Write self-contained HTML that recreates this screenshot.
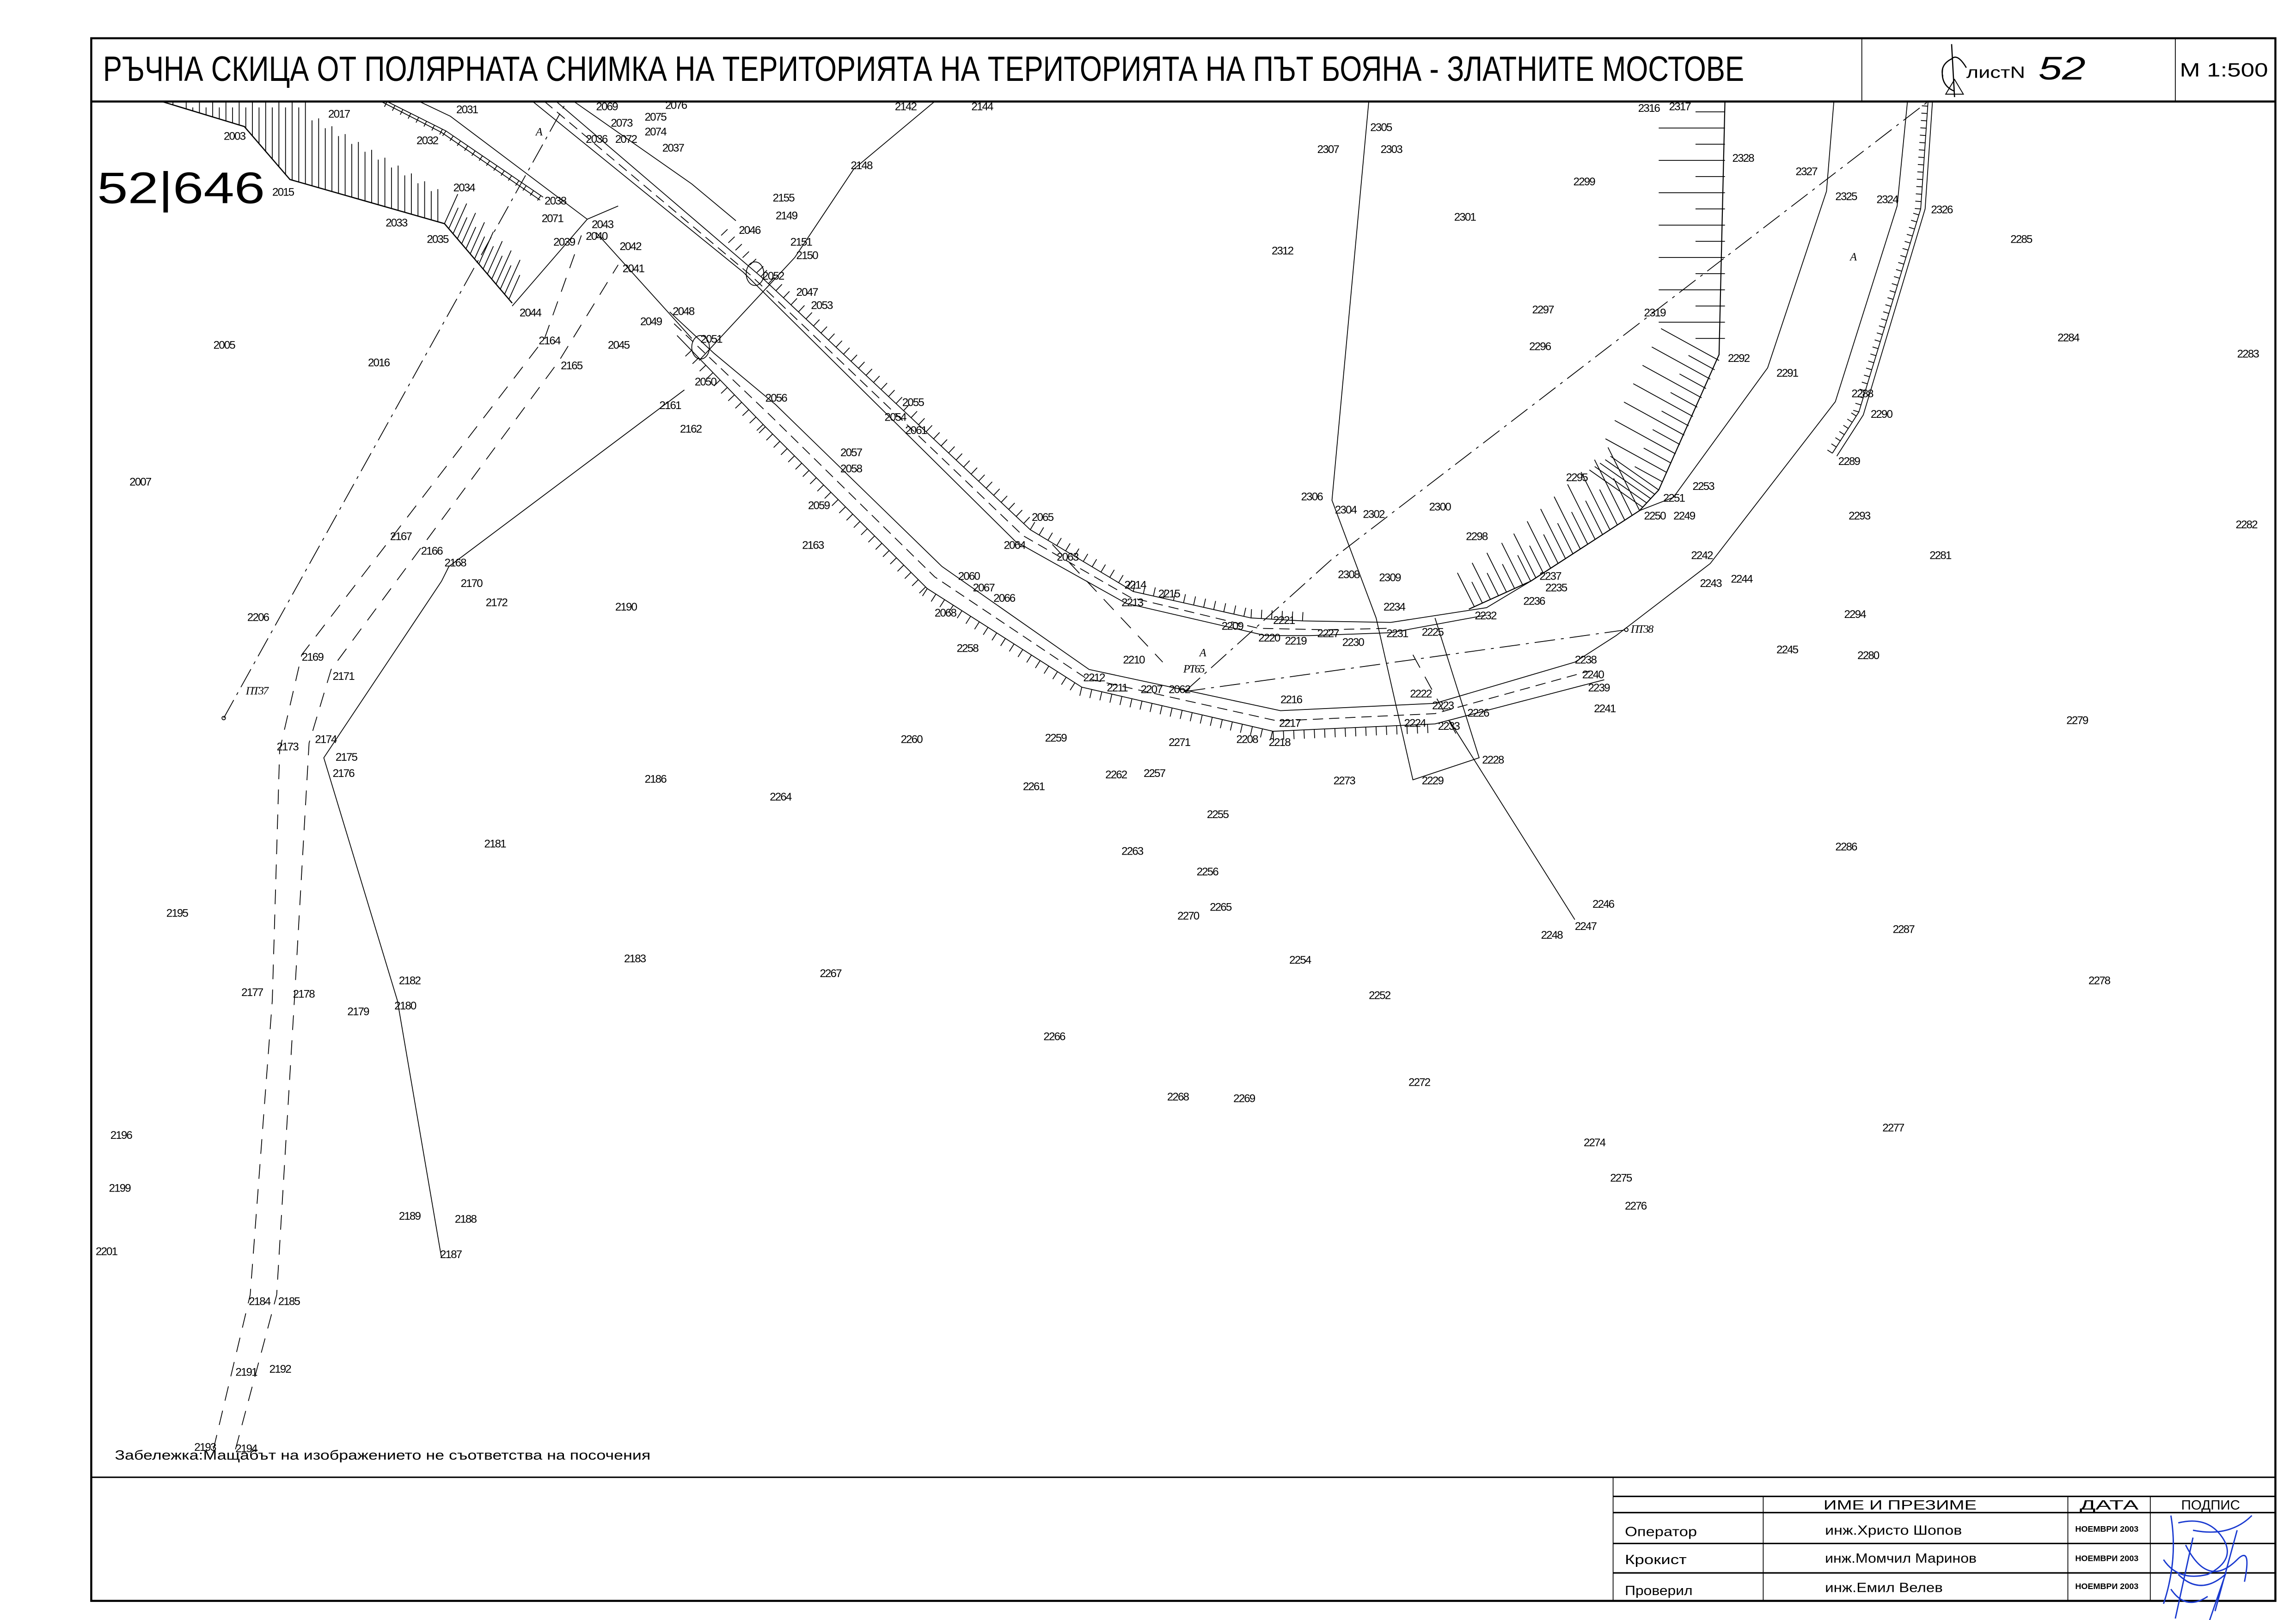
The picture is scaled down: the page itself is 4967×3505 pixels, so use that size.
<!DOCTYPE html>
<html><head><meta charset="utf-8"><style>
html,body{margin:0;padding:0;background:#fff;}
svg{display:block;}
text{font-family:"Liberation Sans",sans-serif;fill:#000;}
.l{font-size:7.6px;letter-spacing:-0.6px;}
</style></head><body>
<svg id="s" xmlns="http://www.w3.org/2000/svg" width="4967" height="3505" viewBox="0 0 1560 1101" preserveAspectRatio="none">
<rect width="1560" height="1101" fill="#fff"/>
<g fill="none" stroke="#000" stroke-width="0.55" id="g">
<rect x="62" y="26" width="1484" height="1062" stroke-width="1.4"/>
<line x1="62" y1="69" x2="1546" y2="69" stroke-width="1.4"/>
<line x1="1265" y1="26" x2="1265" y2="69"/>
<line x1="1478" y1="26" x2="1478" y2="69"/>
<line x1="62" y1="1004" x2="1546" y2="1004" stroke-width="1"/>
<line x1="1096" y1="1004" x2="1096" y2="1088"/>
<line x1="1096" y1="1017" x2="1546" y2="1017" stroke-width="1"/>
<line x1="1096" y1="1028" x2="1546" y2="1028" stroke-width="1"/>
<line x1="1096" y1="1049" x2="1546" y2="1049" stroke-width="1"/>
<line x1="1096" y1="1069" x2="1546" y2="1069" stroke-width="1"/>
<line x1="1198" y1="1017" x2="1198" y2="1088"/>
<line x1="1405" y1="1017" x2="1405" y2="1088"/>
<line x1="1461" y1="1017" x2="1461" y2="1088"/>
<path d="M1326 30 L1328 66 M1320 46 Q1318 58 1328 62 M1336 46 Q1330 36 1326 40 Q1318 44 1320 52" stroke-width="0.8"/>
<path d="M1322 64 L1328 54 L1334 64 Z" stroke-width="0.6"/>

<!-- road 1 -->
<polyline points="378,69 517,188 700,360 770,402 850,420 885,422 945,423 1010,413 1040,395 1114,347 1127,333"/>
<polyline points="362,69 505,185 690,368 765,410 860,432 890,432 945,430 1010,418"/>
<polyline points="370,69 510,187 695,364 768,406 855,427 900,428 945,427" stroke-dasharray="7,4"/>
<polyline points="390,69 470,125 500,150"/>
<!-- road 2 -->
<polyline points="455,212 485,240 527,275 640,385 740,455 870,483 975,478 1070,450 1098,432 1162,383 1247,273 1289,140 1296,69"/>
<polyline points="460,228 520,290 630,400 735,467 865,497 975,492 1090,462"/>
<polyline points="458,220 523,282 635,392 738,461 868,490 975,485 1080,456" stroke-dasharray="7,4"/>
<polyline points="405,158 470,230"/>
<!-- right lines -->
<polyline points="998,414 1040,395 1114,347 1127,333 1168,241 1172,69" stroke-width="0.7"/>
<polyline points="1114,347 1137,338 1201,250 1241,130 1246,69"/>
<polyline points="1245,308 1263,280 1305,142 1310,69"/>
<polyline points="1248,310 1266,282 1308,142 1313,69"/>
<!-- misc lines -->
<polyline points="465,265 305,385 300,395 220,515 270,680 300,855"/>
<polyline points="475,245 540,175 580,115 635,69"/>
<polyline points="930,69 905,340 935,420 960,530 1005,515 975,420"/>
<polyline points="985,490 1070,625"/>
<!-- left band -->
<polyline points="110,69 166,86 197,122 302,152 348,206" stroke-width="0.8"/>
<polyline points="259,69 300,90 367,136"/>
<polyline points="263,69 303,89 369,134"/>
<polyline points="285,69 306,79 399,149 348,208"/>
<polyline points="399,149 420,140"/>
<g stroke-dasharray="10,7">
<polyline points="145,985 170,880 185,680 190,510 205,445 370,230 395,160"/>
<polyline points="160,985 188,880 200,680 210,505 225,455 380,245 420,180"/>
<polyline points="715,370 790,450"/>
<polyline points="960,445 990,500"/>
</g>
<g stroke-dasharray="14,4,2,4">
<polyline points="152,488 385,69"/>
<polyline points="805,470 905,380 1120,215 1310,69"/>
<polyline points="805,470 1105,428"/>
</g>
<circle cx="152" cy="488" r="1.2"/>
<circle cx="1105" cy="428" r="1.2"/>
<ellipse cx="513" cy="186" rx="6" ry="8"/>
<ellipse cx="476" cy="236" rx="6" ry="8"/>
</g>
<g id="lab"></g>
<text x="70" y="55" font-size="24" textLength="1115" lengthAdjust="spacingAndGlyphs">РЪЧНА СКИЦА ОТ ПОЛЯРНАТА СНИМКА НА ТЕРИТОРИЯТА НА ТЕРИТОРИЯТА НА ПЪТ БОЯНА - ЗЛАТНИТЕ МОСТОВЕ</text>
<text x="1336" y="53" font-size="11" textLength="40" lengthAdjust="spacingAndGlyphs">листN</text>
<text x="1385" y="54" font-size="22" font-style="italic" textLength="32" lengthAdjust="spacingAndGlyphs">52</text>
<text x="1481" y="52" font-size="13" textLength="60" lengthAdjust="spacingAndGlyphs">M 1:500</text>
<text x="66" y="138" font-size="30" font-weight="normal" textLength="114" lengthAdjust="spacingAndGlyphs" fill="#333">52|646</text>
<text x="78" y="992" font-size="9" textLength="364" lengthAdjust="spacingAndGlyphs">Забележка:Мащабът на изображението не съответства на посочения</text>
<text x="1239" y="1026" font-size="9" textLength="104" lengthAdjust="spacingAndGlyphs">ИМЕ И ПРЕЗИМЕ</text>
<text x="1413" y="1026" font-size="9" textLength="40" lengthAdjust="spacingAndGlyphs">ДАТА</text>
<text x="1482" y="1026" font-size="9" textLength="40" lengthAdjust="spacingAndGlyphs">ПОДПИС</text>
<text x="1104" y="1044" font-size="9" textLength="49" lengthAdjust="spacingAndGlyphs">Оператор</text>
<text x="1104" y="1063" font-size="9" textLength="42" lengthAdjust="spacingAndGlyphs">Крокист</text>
<text x="1104" y="1084" font-size="9" textLength="46" lengthAdjust="spacingAndGlyphs">Проверил</text>
<text x="1240" y="1043" font-size="9" textLength="93" lengthAdjust="spacingAndGlyphs">инж.Христо Шопов</text>
<text x="1240" y="1062" font-size="9" textLength="103" lengthAdjust="spacingAndGlyphs">инж.Момчил Маринов</text>
<text x="1240" y="1082" font-size="9" textLength="80" lengthAdjust="spacingAndGlyphs">инж.Емил Велев</text>
<text x="1410" y="1041" font-size="5.5" font-weight="bold" textLength="43" lengthAdjust="spacingAndGlyphs">НОЕМВРИ 2003</text>
<text x="1410" y="1061" font-size="5.5" font-weight="bold" textLength="43" lengthAdjust="spacingAndGlyphs">НОЕМВРИ 2003</text>
<text x="1410" y="1080" font-size="5.5" font-weight="bold" textLength="43" lengthAdjust="spacingAndGlyphs">НОЕМВРИ 2003</text>
<g fill="none" stroke="#1a3ad0" stroke-width="0.9">
<path d="M1475 1030 Q1480 1060 1470 1090 M1480 1035 Q1500 1030 1510 1045 Q1520 1060 1500 1070 Q1480 1075 1470 1060 M1530 1030 Q1515 1045 1490 1040 M1485 1050 Q1500 1080 1520 1060 Q1530 1050 1525 1075 M1480 1070 Q1495 1085 1512 1070 L1500 1105 M1475 1080 Q1485 1095 1500 1085 M1490 1045 L1478 1100 M1520 1040 L1505 1095"/>
</g>
</svg>
<script>
var NS="http://www.w3.org/2000/svg",g=document.getElementById("g"),lab=document.getElementById("lab");
function ln(a,b,c,d){var e=document.createElementNS(NS,"line");e.setAttribute("x1",a);e.setAttribute("y1",b);e.setAttribute("x2",c);e.setAttribute("y2",d);g.appendChild(e);}
function ticks(p,step,L0,L1,side,fix,alt){var tot=0,seg=[];for(var i=0;i<p.length-1;i++){var d=Math.hypot(p[i+1][0]-p[i][0],p[i+1][1]-p[i][1]);seg.push(d);tot+=d;}
var s=0,k=0;for(var i=0;i<p.length-1;i++){var dx=(p[i+1][0]-p[i][0])/seg[i],dy=(p[i+1][1]-p[i][1])/seg[i];for(var t=0;t<seg[i];t+=step){var x=p[i][0]+dx*t,y=p[i][1]+dy*t,f=(s+t)/tot,L=L0+(L1-L0)*f;if(alt&&(k%2))L*=alt;k++;var nx,ny;if(fix){var m=Math.hypot(fix[0],fix[1]);nx=fix[0]/m;ny=fix[1]/m;}else{nx=dy*side;ny=-dx*side;}ln(x,y,x+nx*L,y+ny*L);}s+=seg[i];}}
// road ticks attached to edges
ticks([[490,160],[517,188],[700,360],[770,402],[850,420],[885,422]],7,6,6,1);
ticks([[470,238],[520,290],[630,400],[735,467],[865,497],[975,492]],7,6,6,-1);
// right bank horizontal
for(var y=76;y<240;y+=11){var L=(Math.round((y-76)/11)%2)?45:20;ln(1172,y,1172-L,y);}
ticks([[1168,245],[1127,333]],7,45,48,null,[-1,-0.55],0.45);
ticks([[1114,347],[1040,395],[998,414]],6,48,25,null,[-0.5,-1],0.6);
ticks([[1127,333],[1114,347]],4,40,45,null,[-1,-0.7]);
// left band vertical hatches
for(var x=113;x<302;x+=4.5){var py;if(x<166)py=69+(x-110)*17/56;else if(x<197)py=86+(x-166)*36/31;else py=122+(x-197)*30/105;var ty=x<209?69:76+(x-209)*57/96;if(py-ty>2)ln(x,py,x,ty+((Math.round(x/4.5)%2)?4:0));}
ticks([[302,152],[348,206]],4.5,22,26,null,[0.45,-1],0.7);
ticks([[263,69],[303,89],[369,134]],6,4,4,-1);
// right hatched line ticks
ticks([[1245,308],[1263,280],[1305,142],[1310,69]],5,4,4,1);
var L="2017 223 80|2003 152 95|2031 310 77|2032 283 98|2015 185 133|2034 308 130|2033 262 154|2035 290 165|2038 370 139|2071 368 151|2043 402 155|2039 376 167|2040 398 163|2042 421 170|2041 423 185|2044 353 215|2069 405 75|2073 415 86|2075 438 82|2074 438 92|2076 452 74|2036 398 97|2072 418 97|2037 450 103|2142 608 75|2144 660 75|2148 578 115|2155 525 137|2149 527 149|2046 502 159|2151 537 167|2150 541 176|2052 518 190|2047 541 201|2053 551 210|2048 457 214|2049 435 221|2051 476 233|2050 472 262|2045 413 237|2164 366 234|2165 381 251|2005 145 237|2016 250 249|2161 448 278|2162 462 294|2056 520 273|2055 613 276|2054 601 286|2061 615 295|2057 571 310|2058 571 321|2059 549 346|2007 88 330|2163 545 373|2065 701 354|2064 682 373|2063 718 381|2167 265 367|2166 286 377|2168 302 385|2170 313 399|2172 330 412|2190 418 415|2060 651 394|2067 661 402|2066 675 409|2068 635 419|2214 764 400|2215 787 406|2213 762 412|2209 830 428|2221 865 424|2220 855 436|2219 873 438|2227 895 433|2230 912 439|2231 942 433|2225 966 432|2234 940 415|2232 1002 421|2236 1035 411|2235 1050 402|2237 1046 394|2298 996 367|2295 1064 327|2251 1130 341|2250 1117 353|2249 1137 353|2253 1150 333|2242 1149 380|2243 1155 399|2244 1176 396|2300 971 347|2306 884 340|2304 907 349|2302 926 352|2308 909 393|2309 937 395|2258 650 443|2206 168 422|2169 205 449|2171 226 462|ПТ37 167 472|2210 763 451|2212 736 463|2211 752 470|2207 775 471|2062 794 471|A 815 446|РТ65 804 457|2216 870 478|2217 869 494|2208 840 505|2218 862 507|2222 958 474|2223 973 482|2226 997 487|2224 954 494|2233 977 496|2238 1070 451|2240 1075 461|2239 1079 470|2241 1083 484|ПТ38 1108 430|2245 1207 444|2280 1262 448|2294 1253 420|2293 1256 353|2281 1311 380|2173 188 510|2174 214 505|2175 228 517|2176 226 528|2260 612 505|2259 710 504|2271 794 507|2228 1007 519|2229 966 533|2273 906 533|2186 438 532|2262 751 529|2257 777 528|2261 695 537|2264 523 544|2255 820 556|2263 762 581|2181 329 576|2256 813 595|2265 822 619|2270 800 625|2195 113 623|2246 1082 617|2247 1070 632|2248 1047 638|2254 876 655|2183 424 654|2267 557 664|2182 271 669|2177 164 677|2178 199 678|2252 930 679|2180 268 686|2179 236 690|2266 709 707|2272 957 738|2268 793 748|2269 838 749|2196 75 774|2274 1076 779|2199 74 810|2275 1094 803|2276 1104 822|2189 271 829|2188 309 831|2201 65 853|2187 299 855|2184 169 887|2185 189 887|2191 160 935|2192 183 933|2193 132 986|2194 160 987|2305 931 89|2307 895 104|2303 938 104|2316 1113 76|2317 1134 75|2328 1177 110|2299 1069 126|2301 988 150|2327 1220 119|2325 1247 136|2324 1275 138|2326 1312 145|2285 1366 165|2312 864 173|A 1257 177|A 364 92|2297 1041 213|2319 1117 215|2296 1039 238|2292 1174 246|2291 1207 256|2288 1258 270|2290 1271 284|2289 1249 316|2284 1398 232|2283 1520 243|2282 1519 359|2279 1404 492|2286 1247 578|2287 1286 634|2278 1419 669|2277 1279 769";
L.split("|").forEach(function(r){var a=r.split(" ");var t=document.createElementNS(NS,"text");t.setAttribute("x",a[1]);t.setAttribute("y",a[2]);t.setAttribute("class","l");if(a[0][0]=="A"||a[0][0]=="П"||a[0][0]=="Р"){t.setAttribute("font-style","italic");t.style.fontFamily="Liberation Serif,serif";}t.textContent=a[0];lab.appendChild(t);});
</script>
</body></html>
